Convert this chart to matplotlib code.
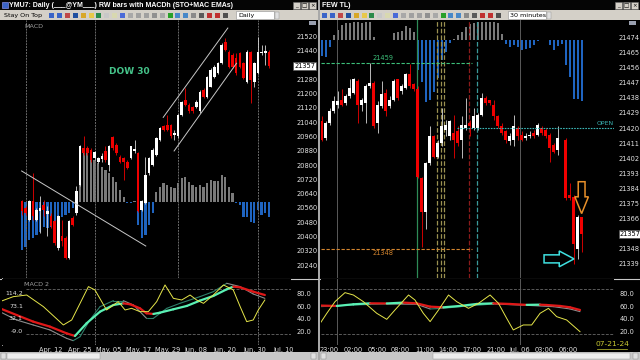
import matplotlib
matplotlib.use("Agg")
import matplotlib.pyplot as plt
import matplotlib.transforms as mtransforms
import numpy as np
from matplotlib.collections import LineCollection
from matplotlib.patches import FancyArrow, Rectangle

plt.rcParams['font.family'] = ['DejaVu Sans']

W, H = 640, 360

# ---------------- left window: YMU7 daily ----------------
d_open = [20597, 20560, 20495, 20597, 20495, 20541, 20579, 20528, 20513, 20486,
          20337, 20402, 20393, 20281, 20504, 20532, 20690, 20895, 20895, 20886,
          20839, 20820, 20833, 20877, 20802, 20956, 20913, 20848, 20839, 20817,
          20839, 20880, 20867, 20551, 20588, 20755, 20802, 20858, 20941, 21016,
          21025, 21025, 20969, 20960, 21081, 21165, 21137, 21127, 21127, 21100,
          21220, 21183, 21239, 21295, 21313, 21369, 21490, 21434, 21416, 21397,
          21425, 21369, 21267, 21434, 21267, 21313, 21425, 21429, 21434]
d_high = [20606, 20569, 20606, 20755, 20560, 20625, 20606, 20569, 20532, 20495,
          20523, 20495, 20402, 20495, 20513, 20681, 20913, 20960, 20904, 20895,
          20877, 20848, 20867, 20908, 20913, 20960, 20923, 20858, 20848, 20826,
          20908, 20941, 20871, 20606, 20848, 20845, 20895, 20956, 21012, 21025,
          21081, 21031, 20997, 21086, 21161, 21230, 21146, 21133, 21165, 21220,
          21230, 21300, 21341, 21360, 21379, 21481, 21509, 21444, 21425, 21425,
          21434, 21379, 21444, 21440, 21379, 21518, 21472, 21472, 21444]
d_low = [20523, 20523, 20486, 20495, 20486, 20420, 20513, 20402, 20448, 20355,
         20327, 20346, 20272, 20272, 20458, 20523, 20681, 20858, 20858, 20820,
         20830, 20811, 20820, 20820, 20765, 20886, 20858, 20811, 20718, 20778,
         20833, 20867, 20536, 20541, 20584, 20746, 20796, 20852, 20936, 20988,
         20993, 20954, 20941, 20951, 21075, 21131, 21094, 21094, 21122, 21094,
         21178, 21178, 21235, 21289, 21308, 21366, 21438, 21345, 21345, 21304,
         21345, 21280, 21261, 21146, 21239, 21308, 21416, 21360, 21341]
d_close = [20541, 20532, 20597, 20513, 20551, 20560, 20551, 20541, 20458, 20365,
           20513, 20374, 20281, 20486, 20467, 20653, 20904, 20867, 20867, 20830,
           20871, 20839, 20852, 20830, 20904, 20895, 20867, 20820, 20820, 20783,
           20904, 20891, 20541, 20597, 20746, 20839, 20886, 20951, 21006, 20997,
           20997, 20960, 20977, 21081, 21155, 21137, 21100, 21100, 21155, 21211,
           21183, 21295, 21332, 21351, 21369, 21472, 21444, 21351, 21351, 21313,
           21351, 21286, 21434, 21276, 21369, 21434, 21434, 21438, 21357]
d_macdh = [-48.3, -45, -38.3, -36.7, -33, -30, -25, -26, -25, -20, -18.3, -15, -13.3, -11.7, -6.7, -1.7,
           55.7, 51.7, 48.3, 45, 41.7, 38.3, 35, 31.7, 28.3, 25, 20, 11.7, 5, -1.7, -1, 0.5,
           -23, -36.7, -33, -23, -11.7,
           10, 15, 18.3, 16.7, 15, 13.3, 18.3, 23.3, 25, 20, 16.7, 15, 16.7, 15, 18.3, 21.7,
           21, 21, 26.7, 25, 15, 8.3,
           -1.7, -3.3, -15, -15, -20, -21.7, -8.3, -13.3, -11.7, -15]
d_last = 21357
d_price_ticks = [p for p in range(20240, 21521, 80) if abs(p - d_last) > 40]
d_date_labels = ['Apr. 12', 'Apr. 25', 'May. 05', 'May. 17', 'May. 29',
                 'Jun. 08', 'Jun. 20', 'Jun. 30', 'Jul. 10']
d_date_pos = [8, 16, 24, 32, 40, 48, 56, 64, 72]
d_month_bars = [1, 20, 43, 65]

# trend lines drawn on the daily chart (bar index, price)
d_down_line = ([-0.1, 34.1], [20767, 20347])
d_chan_up = ([38.9, 56.7], [21067, 21567])
d_chan_lo = ([41.9, 59.1], [20879, 21370])

# MACD 2 pane (daily)
d_sto_x = [-6.1, -2.4, 1.3, 5.9, 11.4, 13.7, 16, 18.3, 20.1, 23.3, 26.5, 28.4, 30.2, 32.5, 34.8,
           37.1, 39.4, 41.7, 44, 46.3, 48.1, 50, 52.7, 55.5, 58.2, 60.1, 61.9, 63.7, 65.1, 66.9]
d_sto = [66.9, 74.7, 77.3, 59.1, 30.5, 38.3, 64.3, 90.4, 85.2, 53.9, 66.9, 53.9, 56.5, 51.3, 51.3,
         66.9, 93, 72.1, 69.5, 77.3, 69.5, 64.3, 77.3, 93, 85.2, 59.1, 35.7, 38.3, 53.9, 69.5]
d_mac_x = [-6.1, -1.5, 3.1, 7.7, 12.3, 14.6, 17.8, 21.5, 25.2, 27.9, 29.8, 32.5, 34.3, 36.2, 38,
           41.7, 45.4, 49, 52.7, 56.4, 58.2, 60.1, 63.7, 66.9]
d_mac = [56.5, 46.1, 35.7, 27.9, 17.4, 13.3, 33.1, 51.3, 61.7, 64.3, 62.8, 56.5, 48.7, 47.7, 49.7,
         55, 60.2, 68.5, 75.8, 86.2, 90.4, 89.3, 82.5, 77.3]
d_sig_x = [-6.1, -1.5, 3.1, 7.7, 12.3, 14.1, 16, 18.7, 21.5, 25.2, 27.9, 30.7, 34.3, 36.2, 39.9,
           43.5, 49, 52.7, 56.4, 60.1, 63.7, 66.9]
d_sig = [51.3, 38.3, 30.5, 22.7, 9.6, 6, 12.2, 38.3, 59.1, 68.5, 68.5, 61.7, 40.9, 40.9, 56.5,
         64.3, 74.7, 82.5, 95.6, 90.4, 78.9, 72.1]
d_left_labels = ['114.2', '73.1', '32.1', '-9.0']
osc_ticks = [20, 40, 60, 80]
osc_bands = [15.9, 86.25]

# ---------------- right window: 30 minutes ----------------
nan = np.nan
m_open = [21424, 21414, 21423, 21430, 21434, 21437, 21435, 21439, 21441, 21448,
          21434, 21435, 21445, 21447, 21423, 21433, 21441, 21433, 21437, 21449,
          21442, 21444, 21452, 21446, 21443, 21390, 21370, 21399, 21415, 21403,
          21411, 21419, 21415, 21417, 21418, 21413, 21420, 21423, 21420, 21420,
          21428, 21438, 21437, 21434, 21427, 21421, 21418, 21412, 21413, 21420,
          21416, 21414, 21415, 21417, 21416, 21420, 21419, 21416, 21410, 21407,
          nan, 21413, 21380, 21379, 21348, 21367]
m_high = [21427, 21424, 21432, 21439, 21442, 21443, 21440, 21449, 21450, 21449,
          21438, 21446, 21459, 21448, 21436, 21448, 21443, 21439, 21449, 21449,
          21446, 21453, 21458, 21447, 21445, 21391, 21400, 21421, 21416, 21413,
          21432, 21425, 21425, 21428, 21421, 21427, 21438, 21425, 21432, 21429,
          21441, 21439, 21437, 21437, 21428, 21423, 21419, 21417, 21428, 21421,
          21418, 21417, 21418, 21419, 21423, 21421, 21420, 21417, 21411, 21421,
          nan, 21414, 21387, 21380, 21368, 21367]
m_low = [21412, 21413, 21422, 21429, 21432, 21433, 21434, 21438, 21440, 21423,
         21430, 21423, 21444, 21420, 21417, 21432, 21427, 21432, 21436, 21437,
         21440, 21443, 21444, 21442, 21390, 21349, 21360, 21398, 21402, 21402,
         21409, 21415, 21413, 21402, 21409, 21402, 21419, 21415, 21419, 21419,
         21427, 21434, 21434, 21425, 21420, 21416, 21411, 21410, 21409, 21413,
         21412, 21413, 21414, 21414, 21415, 21416, 21414, 21400, 21405, 21404,
         nan, 21377, 21377, 21339, 21342, 21346]
m_close = [21413, 21423, 21430, 21436, 21436, 21434, 21439, 21444, 21449, 21434,
           21437, 21445, 21447, 21421, 21434, 21440, 21430, 21437, 21448, 21438,
           21445, 21452, 21445, 21443, 21391, 21370, 21399, 21415, 21403, 21411,
           21421, 21422, 21424, 21413, 21411, 21422, 21422, 21421, 21427, 21428,
           21438, 21435, 21435, 21427, 21421, 21417, 21413, 21415, 21421, 21415,
           21413, 21415, 21416, 21415, 21422, 21417, 21415, 21408, 21406, 21414,
           nan, 21378, 21378, 21351, 21367, 21357]
m_macdh = [-16, -17, -7,
           5, 10, 15, 17, 17, 18, 18, 17, 18, 18, 3,
           0, 0, 0, 0,
           7, 8, 9, 14, 12, 8,
           -30, -42, -62, -60, -52, -38, -20, -12, -3,
           1, 4.5, 8, 13, 15.5, 17, 18, 18, 18, 18, 18, 17, 6,
           -4, -7, -5.5, -7, -10.5, -9, -8, -5.5, -1, -0.5, 0, -5.5, -10, -6.5, -4,
           -25.5, -37, -59.5, -59.5, -61.5]
m_last = 21357
m_price_ticks = [p for p in range(21339, 21475, 9) if p != m_last]
m_time_labels = ['23:00', '02:00', '05:00', '08:00', '11:00', '14:00', '17:00',
                 '21:00', 'Jul. 06', '03:00', '06:00']
m_time_pos = [1.9, 7.85, 13.8, 19.75, 25.7, 31.65, 37.6, 43.6, 49.6, 55.6, 61.6]
m_day_bars = [3.9, 49.6]
m_high_line = 21459
m_low_line = 21348
m_open_line = 21420
m_level_end = 37.6
m_open_start = 33.75
# session marker lines: bar position, colour, style
m_markers = [(23.75, '#2E8B57', '-'), (28.75, '#9A9050', '--'), (29.75, '#9A9050', '--'),
             (30.65, '#9A9050', '--'), (36.8, '#8B1A1A', '--'), (38.75, '#3A9A9A', '--')]

# MACD pane (30 min)
m_sto_x = [-0.4, 1.25, 3.3, 5.8, 7.9, 10.4, 13.75, 16.25, 18.3, 21.7, 23.3, 25.4, 27.1, 29.2, 31.7,
           33.75, 36.7, 39.2, 42.1, 44.2, 46.25, 47.9, 50.4, 52.5, 54.6, 56.7, 58.75, 61.25, 64.6]
m_sto = [33.1, 48.7, 66.9, 81, 77.3, 66.9, 48.7, 39.3, 53.9, 77.3, 69.5, 48.7, 35.7, 53.9, 77.3,
         66.9, 56.5, 64.3, 77.3, 64.3, 40.9, 22.7, 30.5, 30.5, 48.7, 56.5, 43.5, 38.3, 20]
m_mac_x = [-0.4, 3.75, 7.9, 12.1, 16.25, 20.4, 23.75, 27.1, 30.4, 34.6, 38.75, 42.9, 47.1, 51.25,
           54.6, 56.25, 59.6, 62.1, 64.6]
m_mac = [60.8, 60.2, 62.8, 64.3, 64.1, 65.4, 64.3, 59.1, 58.1, 60.2, 63.3, 64.3, 63.3, 61.9,
         62.2, 61.7, 60.2, 58.1, 53.9]
m_sig_x = [-0.4, 7.9, 16.25, 23.75, 27.1, 30.4, 34.6, 42.9, 51.25, 57.9, 62.1, 64.6]
m_sig = [59.1, 61.7, 63.3, 62.8, 55.5, 56.5, 59.1, 63.3, 61.2, 59.1, 55.5, 51.3]

LABEL = '#E4E4E4'
RED = '#F00000'
UP_GREEN = '#5AF0B4'
GRAY_H = '#7A7A7A'
BLUE_H = '#1F64C0'
FS = 4.8


def px_rect(x0, y0, x1, y1):
    return [x0 / W, 1 - y1 / H, (x1 - x0) / W, (y1 - y0) / H]


def ftext(x, y, s, **kw):
    return fig.text(x / W, 1 - y / H, s, **kw)


def clean(ax, xlim, ylim, transparent=False):
    ax.set_xlim(*xlim)
    ax.set_ylim(*ylim)
    ax.set_facecolor('black')
    if transparent:
        ax.patch.set_visible(False)
    for s in ax.spines.values():
        s.set_visible(False)
    ax.set_xticks([])
    ax.set_yticks([])


def candles(ax, o, h, l, c, width, min_body):
    o, h, l, c = (np.asarray(a, float) for a in (o, h, l, c))
    x = np.arange(len(o))
    ok = np.isfinite(o)
    up = c >= o
    body_col = np.where(up, 'white', RED)
    wick_col = np.where(up, '#D8D8D8', RED)
    ax.vlines(x[ok], l[ok], h[ok], colors=wick_col[ok], lw=0.6, zorder=3)
    bottom = np.minimum(o, c)
    height = np.maximum(np.abs(c - o), min_body)
    ax.bar(x[ok], height[ok], width, bottom=bottom[ok], color=body_col[ok], lw=0, zorder=4)


def histogram(ax, vals, width):
    vals = np.asarray(vals, float)
    cols = np.where(vals >= 0, GRAY_H, BLUE_H)
    ax.bar(np.arange(len(vals)), vals, width, color=cols, lw=0)


def slope_line(ax, x, y, up_col, dn_col, lw, z):
    pts = np.column_stack([x, y])
    segs = np.stack([pts[:-1], pts[1:]], axis=1)
    cols = [up_col if b >= a else dn_col for a, b in zip(y[:-1], y[1:])]
    ax.add_collection(LineCollection(segs, colors=cols, linewidths=lw,
                                     capstyle='round', zorder=z))


def osc_pane(ax, band_x0, sto_x, sto, mac_x, mac, sig_x, sig):
    for v in osc_bands:
        ax.hlines(v, band_x0, ax.get_xlim()[1], color='#5A5A5A', lw=0.7,
                  ls=(0, (3, 1.5)), zorder=1)
    slope_line(ax, sig_x, sig, '#2E7F6A', '#8C8C8C', 0.8, 2)
    slope_line(ax, mac_x, mac, UP_GREEN, '#E01818', 1.6, 3)
    ax.plot(sto_x, sto, color='#E6E64A', lw=0.7, zorder=4)
    ax.yaxis.tick_right()
    ax.set_yticks(osc_ticks, [f'{v:.1f}' for v in osc_ticks])
    ax.tick_params(axis='both', length=0, labelsize=FS, colors=LABEL)
    ax.tick_params(axis='y', pad=4)
    ax.tick_params(axis='x', pad=1.5)


def price_box(ax, price, xfrac):
    tr = mtransforms.blended_transform_factory(ax.transAxes, ax.transData)
    ax.text(xfrac, price, f'{price}', transform=tr, ha='center', va='center',
            fontsize=FS, color='black', clip_on=False, zorder=10,
            bbox=dict(boxstyle='square,pad=0.15', fc='white', ec='#505050', lw=0.5))


fig = plt.figure(figsize=(6.4, 3.6), dpi=100, facecolor='black')

# window chrome drawn in pixel coordinates
bg = fig.add_axes([0, 0, 1, 1])
bg.set_xlim(0, W)
bg.set_ylim(H, 0)
bg.axis('off')
bg.set_zorder(-5)

icon_cols = ['#3A64C8', '#3A64C8', '#C04848', '#2050A0', '#D8A828', '#E8C848', '#2A8A4A',
             '#C8C8C8', '#D8D8B0', '#4A6AD8', '#A8A8A8', '#A0A0A0', '#A0A0A0', '#909090',
             '#A8A8A8', '#28A028', '#4888C8', '#4888C8', '#8A8A8A', '#5A5A5A', '#C03030',
             '#C03030', '#505050']


def chrome(x0, x1, title, tf, icons_x0, tf_x0, tf_x1):
    bg.add_patch(Rectangle((x0, 0), x1 - x0, 10, fc='#050505', ec='none'))
    bg.add_patch(Rectangle((x0, 10), x1 - x0, 10, fc='#D4D0C8', ec='none'))
    ftext(x0 + (9 if x0 == 0 else 2), 5.3, title, fontsize=5.0, fontweight='bold',
          color='white', va='center', family=['Liberation Sans', 'DejaVu Sans'])
    if x0 == 0:
        bg.add_patch(Rectangle((1.5, 1.5), 6, 6, fc='#3A64C8', ec='#A0A0FF', lw=0.4))
    for k, g in enumerate(['_', '□', '×']):
        bx = x1 - 25 + k * 7.8
        bg.add_patch(Rectangle((bx, 1.5), 7, 7, fc='#D4D0C8', ec='#707070', lw=0.4))
        ftext(bx + 3.5, 5.3, g, fontsize=4, color='black', ha='center', va='center')
    for k, col in enumerate(icon_cols):
        ix = icons_x0 + k * 7.9
        if ix > tf_x0 - 6:
            break
        bg.add_patch(Rectangle((ix, 12.5), 5, 5, fc=col, ec='none'))
    bg.add_patch(Rectangle((tf_x0, 11), tf_x1 - tf_x0, 8, fc='white', ec='#909090', lw=0.4))
    ftext(tf_x0 + 2, 15.3, tf, fontsize=4.6, color='black', va='center')
    bg.add_patch(Rectangle((tf_x1 + 1, 11.5), 4, 7, fc='#E0E0E0', ec='#909090', lw=0.3))
    # scroll bar
    bg.add_patch(Rectangle((x0, 352), x1 - x0, 8, fc='#C8C8C8', ec='none'))
    bg.add_patch(Rectangle((x0 + 1, 353), 5, 6, fc='#E0E0E0', ec='#808080', lw=0.3))
    bg.add_patch(Rectangle((x1 - 7, 353), 5, 6, fc='#E0E0E0', ec='#808080', lw=0.3))
    bg.plot([x0, x1], [278.5, 278.5], color='#C8C8C8', lw=0.8)


chrome(0, 318, 'YMU7: Daily (___@YM___) RW bars with MACDh (STO+MAC EMAs)', 'Daily', 49, 236, 274)
chrome(320, 640, 'FEW TL)', '30 minutes', 322, 508, 546)
ftext(4, 15.3, 'Stay On Top', fontsize=4.6, color='black', va='center')
bg.add_patch(Rectangle((7, 353), 93, 6, fc='#EDEDED', ec='#909090', lw=0.3))
bg.add_patch(Rectangle((433, 353), 197, 6, fc='#EDEDED', ec='#909090', lw=0.3))
bg.add_patch(Rectangle((318, 0), 2, H, fc='#A8A8A8', ec='none'))
bg.plot([1.5, 1.5], [20, 345], color='#C0C0C0', lw=0.6)
bg.add_patch(Rectangle((309, 21), 7, 3.5, fc='#9AA0B0', ec='none'))
bg.add_patch(Rectangle((629, 21), 7, 3.5, fc='#9AA0B0', ec='none'))

# ---- left: daily main pane ----
d_x = (-5.5, 74.1)
LH = fig.add_axes(px_rect(2, 20, 291, 278))
clean(LH, d_x, (-76.3, 181.7))
histogram(LH, d_macdh, 0.62)

LM = fig.add_axes(px_rect(2, 20, 291, 278))
clean(LM, d_x, (20168, 21612), transparent=True)
for b in d_month_bars:
    LM.axvline(b, color='#6A6A6A', lw=0.7, ls=(0, (2, 1)), zorder=1)
candles(LM, d_open, d_high, d_low, d_close, 0.72, 4)
for xs, ys in (d_down_line, d_chan_up, d_chan_lo):
    LM.plot(xs, ys, color='#C8C8C8', lw=0.7, zorder=5)
LM.text(29.5, 21326, 'DOW 30', color='#45C48A', fontsize=6.5, fontweight='bold',
        ha='center', va='center')
LM.yaxis.tick_right()
LM.set_yticks(d_price_ticks, [str(p) for p in d_price_ticks])
LM.tick_params(axis='y', length=0, pad=4, labelsize=FS, colors=LABEL)
price_box(LM, d_last, 1.048)
ftext(24, 27, 'MACD', fontsize=4.6, color='#A0A0A0', va='center')

# ---- left: MACD 2 pane ----
LL = fig.add_axes(px_rect(2, 279, 291, 345))
clean(LL, d_x, (-0.8, 102.3))
for b in (d_month_bars[1], d_month_bars[3]):
    LL.axvline(b, color='#6A6A6A', lw=0.7, ls=(0, (2, 1)), zorder=1)
osc_pane(LL, d_month_bars[0], d_sto_x, d_sto, d_mac_x, d_mac, d_sig_x, d_sig)
LL.set_xticks(d_date_pos, d_date_labels)
tr = mtransforms.blended_transform_factory(LL.transAxes, LL.transData)
for v, s in zip(osc_ticks[::-1], d_left_labels):
    LL.text(0.072, v, s, transform=tr, ha='right', va='center', fontsize=4.5, color=LABEL,
            zorder=6)
ftext(24, 284, 'MACD 2', fontsize=4.6, color='#A0A0A0', va='center')

# ---- right: 30 minute main pane ----
m_x = (-0.2, 73.1)
RH = fig.add_axes(px_rect(321, 20, 614, 278))
clean(RH, m_x, (-238.5, 19.5))
histogram(RH, m_macdh, 0.55)

RM = fig.add_axes(px_rect(321, 20, 614, 278))
clean(RM, m_x, (21330.6, 21484.4), transparent=True)
for b in m_day_bars:
    RM.axvline(b, color='#5A5A5A', lw=0.7, zorder=1)
for b, col, ls in m_markers:
    RM.axvline(b, color=col, lw=0.9, ls=ls, zorder=2)
candles(RM, m_open, m_high, m_low, m_close, 0.7, 0.6)
RM.hlines(m_high_line, m_x[0], m_level_end, color='#3CC07A', lw=0.8, ls=(0, (3, 1.5)), zorder=5)
RM.hlines(m_low_line, m_x[0], m_level_end, color='#D2842E', lw=0.8, ls=(0, (3, 1.5)), zorder=5)
RM.hlines(m_open_line, m_open_start, m_x[1], color='#3AB5B5', lw=0.8, ls=(0, (1.5, 1)), zorder=5)
RM.text(15.3, m_high_line + 1.2, str(m_high_line), color='#3CC07A', fontsize=FS,
        ha='center', va='bottom')
RM.text(15.3, m_low_line - 0.8, str(m_low_line), color='#D2842E', fontsize=FS,
        ha='center', va='top')
RM.text(70.8, m_open_line + 1.0, 'OPEN', color='#3AB5B5', fontsize=FS - 0.4,
        ha='center', va='bottom')
top_bar = len(m_close) - 1
RM.add_patch(FancyArrow(top_bar, m_high[top_bar] + 21, 0, -19, width=1.7, head_width=3.4,
                        head_length=10, length_includes_head=True, fill=False,
                        ec='#E8902A', lw=1.1, zorder=6))
low_bar = int(np.nanargmin(m_low))
RM.add_patch(FancyArrow(low_bar - 7.4, m_low[low_bar] + 3, 7.5, 0, width=4.8, head_width=9.4,
                        head_length=3.7, length_includes_head=True, fill=False,
                        ec='#3FE0E0', lw=1.1, zorder=6))
RM.yaxis.tick_right()
RM.set_yticks(m_price_ticks, [str(p) for p in m_price_ticks])
RM.tick_params(axis='y', length=0, pad=3, labelsize=FS, colors=LABEL)
price_box(RM, m_last, 1.055)

# ---- right: MACD pane ----
RL = fig.add_axes(px_rect(321, 279, 614, 345))
clean(RL, m_x, (-0.8, 102.3))
for b in m_day_bars:
    RL.axvline(b, color='#5A5A5A', lw=0.7, zorder=1)
osc_pane(RL, m_x[0], m_sto_x, m_sto, m_mac_x, m_mac, m_sig_x, m_sig)
RL.set_xticks(m_time_pos, m_time_labels)
ftext(612, 344.5, '07-21-24', fontsize=5.4, color='#C8C832', ha='center', va='center', zorder=10)
bg.plot([597, 627], [348.5, 348.5], color='#C8C832', lw=0.5)

fig.savefig('out.png', dpi=100, facecolor='black')
